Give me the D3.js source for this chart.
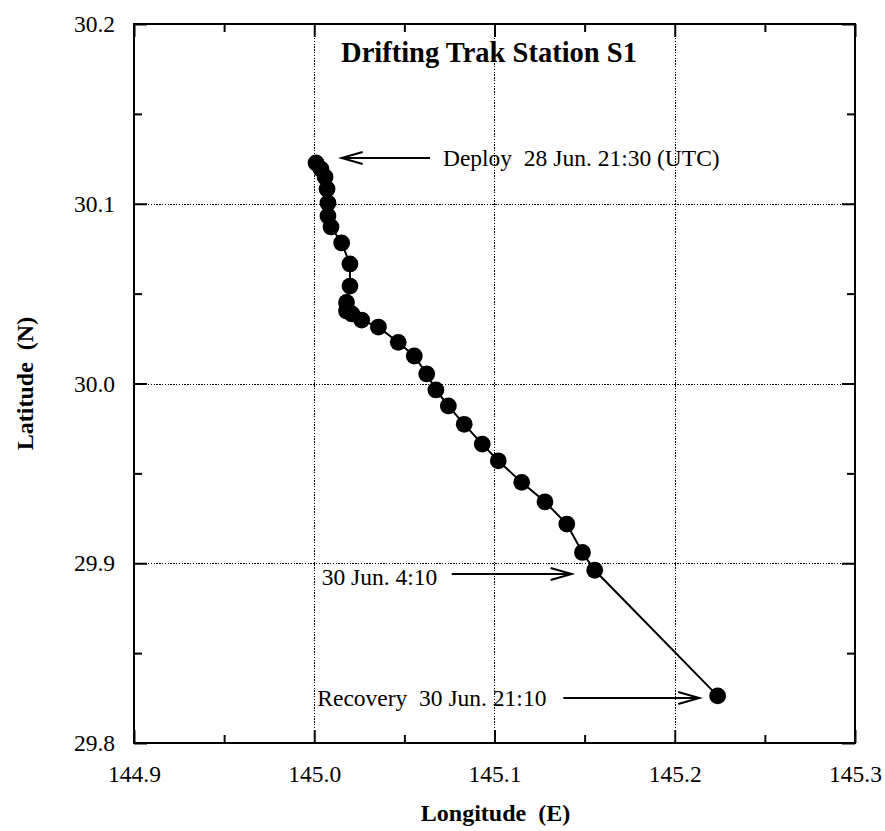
<!DOCTYPE html>
<html>
<head>
<meta charset="utf-8">
<script src="https://cdn.jsdelivr.net/npm/d3@7/dist/d3.min.js"></script>
<style>
  html, body { margin: 0; padding: 0; background: #fff; }
  svg { display: block; }
  text { font-family: "Liberation Serif", "Times New Roman", serif; fill: #000; white-space: pre; }
</style>
</head>
<body>
<svg id="chart" width="885" height="831"></svg>
<script>
// ---- Data ----
const lon = [145.0010, 145.0037, 145.0060, 145.0071, 145.0076, 145.0076, 145.0093, 145.0152,
             145.0198, 145.0198, 145.0179, 145.0179, 145.0209, 145.0263, 145.0356, 145.0466,
             145.0555, 145.0624, 145.0675, 145.0744, 145.0832, 145.0932, 145.1021, 145.1151,
             145.1280, 145.1401, 145.1488, 145.1556, 145.2238];
const lat = [30.1227, 30.1193, 30.1149, 30.1082, 30.1004, 30.0932, 30.0871, 30.0782,
             30.0665, 30.0542, 30.0451, 30.0403, 30.0387, 30.0353, 30.0314, 30.0229,
             30.0153, 30.0053, 29.9964, 29.9875, 29.9773, 29.9663, 29.9570, 29.9450,
             29.9342, 29.9218, 29.9060, 29.8961, 29.8262];

const xTicks = [144.9, 145.0, 145.1, 145.2, 145.3];
const yTicks = [29.8, 29.9, 30.0, 30.1, 30.2];
const xMinor = [144.95, 145.05, 145.15, 145.25];
const yMinor = [29.85, 29.95, 30.05, 30.15];

const titleText = "Drifting Trak Station S1";
const xTitle = "Longitude  (E)";
const yTitle = "Latitude  (N)";

// annotations: text anchor (lon, lat) and arrow (from lon, to lon, at lat)
const annoText = ["Deploy  28 Jun. 21:30 (UTC)", "30 Jun. 4:10", "Recovery  30 Jun. 21:10"];
const annoTextLon = [145.0714, 145.0041, 145.0017];
const annoTextLat = [30.1210, 29.8879, 29.8208];
const arrowFromLon = [145.0642, 145.0763, 145.1382];
const arrowToLon = [145.0152, 145.1428, 145.2136];
const arrowLat = [30.1255, 29.8940, 29.8250];

// ---- Layout ----
const svg = d3.select("#chart");
const L = 134, R = 855, T = 24, B = 743;
const x = d3.scaleLinear().domain([144.9, 145.3]).range([L, R]);
const y = d3.scaleLinear().domain([29.8, 30.2]).range([B, T]);

// grid (dotted)
const grid = svg.append("g").attr("shape-rendering", "crispEdges");
grid.selectAll("line.gx").data(xTicks.slice(1, -1)).join("line")
  .attr("x1", d => Math.round(x(d)) + 0.5).attr("x2", d => Math.round(x(d)) + 0.5).attr("y1", T).attr("y2", B)
  .attr("stroke", "#000").attr("stroke-width", 1).attr("stroke-dasharray", "1.4,1.4");
grid.selectAll("line.gy").data(yTicks.slice(1, -1)).join("line")
  .attr("y1", d => Math.round(y(d)) + 0.5).attr("y2", d => Math.round(y(d)) + 0.5).attr("x1", L).attr("x2", R)
  .attr("stroke", "#000").attr("stroke-width", 1).attr("stroke-dasharray", "1.4,1.4");

// axes with inward ticks on all four sides
function addAxis(axisGen, transform) {
  const g = svg.append("g").attr("transform", transform).call(axisGen);
  g.select(".domain").remove();
  g.selectAll(".tick line").attr("stroke", "#000").attr("stroke-width", 2);
  return g;
}
const fmt = d3.format(".1f");
const bx = addAxis(d3.axisBottom(x).tickValues(xTicks).tickSize(-13).tickPadding(22).tickFormat(fmt), `translate(0,${B})`);
bx.selectAll(".tick text").attr("font-size", 23.5).attr("font-family", "Liberation Serif").attr("fill", "#000");
addAxis(d3.axisBottom(x).tickValues(xMinor).tickSize(-8).tickFormat(""), `translate(0,${B})`);
addAxis(d3.axisTop(x).tickValues(xTicks).tickSize(-13).tickFormat(""), `translate(0,${T})`);
addAxis(d3.axisTop(x).tickValues(xMinor).tickSize(-8).tickFormat(""), `translate(0,${T})`);
const ly = addAxis(d3.axisLeft(y).tickValues(yTicks).tickSize(-13).tickPadding(19).tickFormat(fmt), `translate(${L},0)`);
ly.selectAll(".tick text").attr("font-size", 23.5).attr("font-family", "Liberation Serif").attr("fill", "#000");
addAxis(d3.axisLeft(y).tickValues(yMinor).tickSize(-8).tickFormat(""), `translate(${L},0)`);
addAxis(d3.axisRight(y).tickValues(yTicks).tickSize(-13).tickFormat(""), `translate(${R},0)`);
addAxis(d3.axisRight(y).tickValues(yMinor).tickSize(-8).tickFormat(""), `translate(${R},0)`);

// frame
svg.append("rect").attr("x", L).attr("y", T).attr("width", R - L).attr("height", B - T)
  .attr("fill", "none").attr("stroke", "#000").attr("stroke-width", 2);

// track line + points
const pts = lon.map((d, i) => [d, lat[i]]);
svg.append("path").datum(pts)
  .attr("d", d3.line().x(d => x(d[0])).y(d => y(d[1])))
  .attr("fill", "none").attr("stroke", "#000").attr("stroke-width", 2);
svg.append("g").selectAll("circle").data(pts).join("circle")
  .attr("cx", d => x(d[0])).attr("cy", d => y(d[1])).attr("r", 8.4).attr("fill", "#000");

// annotations
const ag = svg.append("g");
annoText.forEach((t, i) => {
  ag.append("text").attr("x", x(annoTextLon[i])).attr("y", y(annoTextLat[i]))
    .attr("font-size", 23.5).attr("xml:space", "preserve").text(t);
  const x1 = x(arrowFromLon[i]), x2 = x(arrowToLon[i]), yy = y(arrowLat[i]);
  const dir = Math.sign(x2 - x1);
  ag.append("line").attr("x1", x1).attr("x2", x2).attr("y1", yy).attr("y2", yy)
    .attr("stroke", "#000").attr("stroke-width", 2);
  ag.append("path")
    .attr("d", `M${x2 - dir * 21},${yy - 6}L${x2},${yy}L${x2 - dir * 21},${yy + 6}`)
    .attr("fill", "none").attr("stroke", "#000").attr("stroke-width", 2);
});

// titles
svg.append("text").attr("x", 489).attr("y", 62).attr("text-anchor", "middle")
  .attr("font-size", 28.5).attr("font-weight", "bold").text(titleText);
svg.append("text").attr("x", (L + R) / 2 + 1).attr("y", 821).attr("text-anchor", "middle")
  .attr("font-size", 24).attr("font-weight", "bold").attr("xml:space", "preserve").text(xTitle);
svg.append("text").attr("transform", `translate(33,${(T + B) / 2}) rotate(-90)`)
  .attr("text-anchor", "middle").attr("font-size", 24).attr("font-weight", "bold").attr("xml:space", "preserve").text(yTitle);
</script>
</body>
</html>
